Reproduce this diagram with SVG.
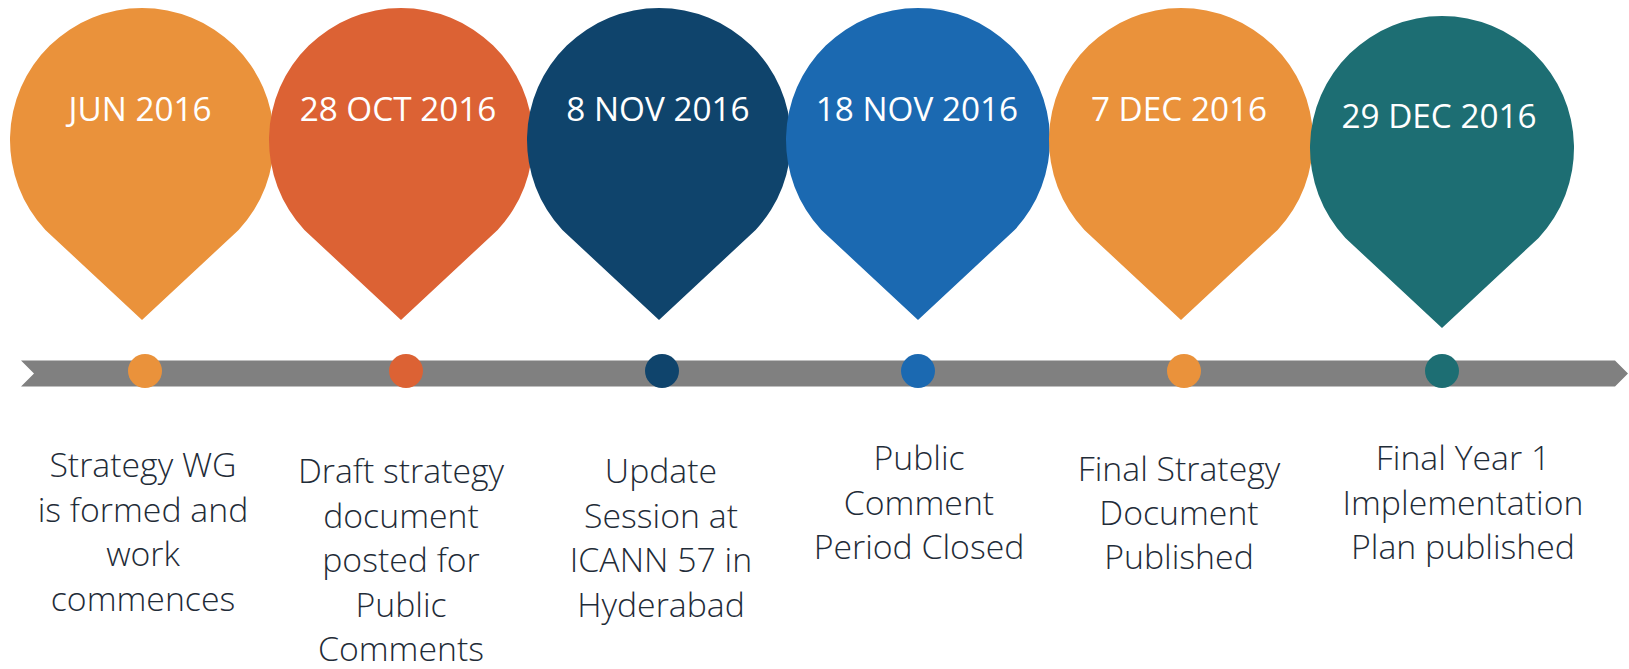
<svg xmlns="http://www.w3.org/2000/svg" width="1629" height="669" viewBox="0 0 1629 669">
<style>
.date{font-family:"Open Sans","Noto Sans",sans-serif;font-size:33.3px;fill:#ffffff;text-anchor:middle}
.desc{font-family:"Open Sans","Noto Sans",sans-serif;font-weight:300;font-size:33.8px;fill:#1f2c38;text-anchor:middle}
.c1{fill:#ea923b}.c2{fill:#dc6234}.c3{fill:#0f446c}.c4{fill:#1b69b1}.c5{fill:#ea923b}.c6{fill:#1d6e73}
</style>
<defs>
<path id="pin" d="M-96.6,90 A132,132 0 1 1 96.6,90 L0,180 Z"/>
</defs>
<g id="connectors">
<polygon points="21,360.5 1615,360.5 1628,373.5 1615,386.5 21,386.5 34,373.5" fill="#808080"/>
</g>
<g id="node1">
<use href="#pin" class="c1" transform="translate(142,140)"/>
<text class="date" x="140" y="121">JUN 2016</text>
<circle class="c1" cx="145" cy="371" r="17"/>
<text class="desc"><tspan x="143" y="477">Strategy WG</tspan><tspan x="143" y="521.5">is formed and</tspan><tspan x="143" y="566">work</tspan><tspan x="143" y="610.5">commences</tspan></text>
</g>
<g id="node2">
<use href="#pin" class="c2" transform="translate(401,140)"/>
<text class="date" x="398" y="121">28 OCT 2016</text>
<circle class="c2" cx="406" cy="371" r="17"/>
<text class="desc"><tspan x="401" y="483">Draft strategy</tspan><tspan x="401" y="527.5">document</tspan><tspan x="401" y="572">posted for</tspan><tspan x="401" y="616.5">Public</tspan><tspan x="401" y="661">Comments</tspan></text>
</g>
<g id="node3">
<use href="#pin" class="c3" transform="translate(659,140)"/>
<text class="date" x="658" y="121">8 NOV 2016</text>
<circle class="c3" cx="662" cy="371" r="17"/>
<text class="desc"><tspan x="661" y="483">Update</tspan><tspan x="661" y="527.5">Session at</tspan><tspan x="661" y="572">ICANN 57 in</tspan><tspan x="661" y="616.5">Hyderabad</tspan></text>
</g>
<g id="node4">
<use href="#pin" class="c4" transform="translate(918,140)"/>
<text class="date" x="917" y="121">18 NOV 2016</text>
<circle class="c4" cx="918" cy="371" r="17"/>
<text class="desc"><tspan x="919" y="470">Public</tspan><tspan x="919" y="514.5">Comment</tspan><tspan x="919" y="559">Period Closed</tspan></text>
</g>
<g id="node5">
<use href="#pin" class="c5" transform="translate(1181,140)"/>
<text class="date" x="1179" y="121">7 DEC 2016</text>
<circle class="c5" cx="1184" cy="371" r="17"/>
<text class="desc"><tspan x="1179" y="481">Final Strategy</tspan><tspan x="1179" y="525">Document</tspan><tspan x="1179" y="569">Published</tspan></text>
</g>
<g id="node6">
<use href="#pin" class="c6" transform="translate(1442,148)"/>
<text class="date" x="1439" y="128">29 DEC 2016</text>
<circle class="c6" cx="1442" cy="371" r="17"/>
<text class="desc"><tspan x="1463" y="469.5">Final Year 1</tspan><tspan x="1463" y="514.5">Implementation</tspan><tspan x="1463" y="559">Plan published</tspan></text>
</g>
</svg>
